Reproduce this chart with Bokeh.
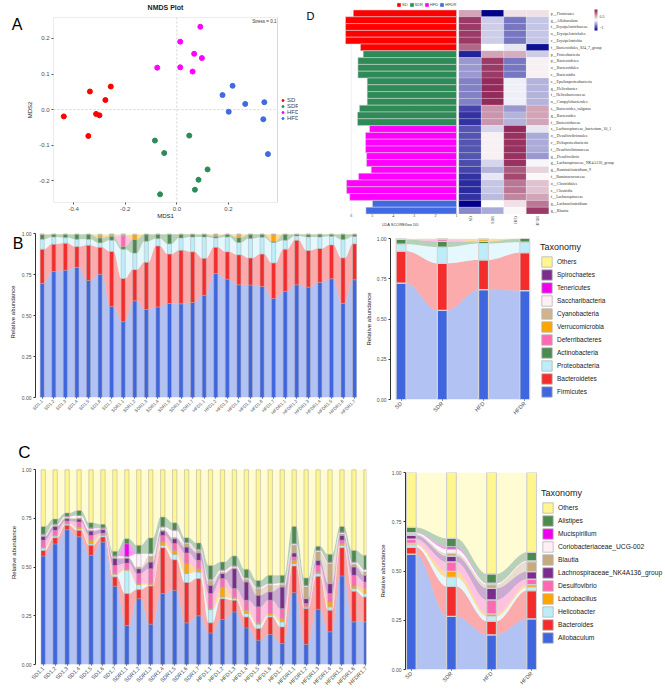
import math
import numpy as np
from bokeh.plotting import figure
from bokeh.models import (Range1d, FixedTicker, Span, Label, LabelSet, Legend, LegendItem, LinearAxis,
                          ColumnDataSource, LinearColorMapper, ColorBar, PrintfTickFormatter, BoxAnnotation)
from bokeh.layouts import row, column
from bokeh.embed import file_html
from bokeh.resources import INLINE
from bokeh.transform import transform

# ---------------- DATA ----------------
# Panel A: NMDS
groups = ["SD", "SDR", "HFD", "HFDR"]
group_colors = ["#FF0000", "#2E8B57", "#FF00FF", "#4169E1"]
sd_x = [-0.438, -0.337, -0.256, -0.277, -0.313, -0.300, -0.343]
sd_y = [-0.019, 0.051, 0.065, 0.027, -0.012, -0.016, -0.074]
sdr_x = [0.048, -0.085, -0.049, 0.119, 0.084, 0.070, -0.065]
sdr_y = [-0.073, -0.087, -0.122, -0.168, -0.197, -0.225, -0.238]
hfd_x = [0.091, 0.013, 0.067, 0.097, -0.076, 0.013, 0.061]
hfd_y = [0.233, 0.191, 0.157, 0.145, 0.118, 0.119, 0.107]
hfdr_x = [0.216, 0.177, 0.265, 0.339, 0.201, 0.335, 0.353]
hfdr_y = [0.067, 0.041, 0.016, 0.021, -0.006, -0.027, -0.125]
nmds_xticks = [-0.4, -0.2, 0.0, 0.2]
nmds_yticks = [-0.2, -0.1, 0.0, 0.1, 0.2]
nmds_xlim = (-0.478, 0.39)
nmds_ylim = (-0.261, 0.259)

# Panel D: LEfSe
lefse_features = ["p__Firmicutes", "g__Allobaculum", "f__Erysipelotrichaceae", "o__Erysipelotrichales",
                  "c__Erysipelotrichia", "f__Bacteroidales_S24_7_group", "p__Proteobacteria", "p__Bacteroidetes",
                  "o__Bacteroidales", "c__Bacteroidia", "c__Epsilonproteobacteria", "g__Helicobacter",
                  "f__Helicobacteraceae", "o__Campylobacterales", "s__Bacteroides_vulgatus", "g__Bacteroides",
                  "f__Bacteroidaceae", "s__Lachnospiraceae_bacterium_10_1", "o__Desulfovibrionales",
                  "c__Deltaproteobacteria", "f__Desulfovibrionaceae", "g__Desulfovibrio",
                  "g__Lachnospiraceae_NK4A136_group", "g__Ruminiclostridium_9", "f__Ruminococcaceae",
                  "o__Clostridiales", "c__Clostridia", "f__Lachnospiraceae", "g__Lachnoclostridium", "g__Blautia"]
lefse_group = ["SD"] * 6 + ["SDR"] * 11 + ["HFD"] * 11 + ["HFDR"] * 2
lda_score = [5.90, 6.27, 6.27, 6.27, 6.27, 5.56, 5.43, 5.68, 5.68, 5.68, 5.24, 5.24, 5.24, 5.24, 5.61,
             5.70, 5.70, 5.13, 5.32, 5.32, 5.32, 5.27, 5.27, 5.05, 5.65, 6.22, 6.22, 6.07, 4.99, 5.30]
lda_ticks = [1, 2, 3, 4, 5, 6]
hm_sd = [0.6, 1.3, 1.3, 1.3, 1.3, 1.0, -1.3, -0.6, -0.6, -0.6, -0.75, -0.75, -0.75, -0.75, -1.1, -1.2, -1.2,
         -1.0, -1.0, -1.0, -1.0, -1.0, -1.05, -1.1, -1.2, -1.25, -1.25, -1.2, -1.5, -0.7]
hm_sdr = [-1.5, -0.3, -0.3, -0.3, -0.3, 0.0, 0.6, 1.3, 1.3, 1.3, 1.4, 1.4, 1.4, 1.4, 0.7, 0.7, 0.7,
          -0.25, 0.1, 0.1, 0.1, 0.1, -0.25, -0.45, -0.15, -0.35, -0.35, -0.4, 0.0, -0.5]
hm_hfd = [0.2, -0.8, -0.8, -0.8, -0.8, -0.15, 0.55, -0.8, -0.8, -0.8, -0.1, -0.1, -0.1, -0.1, -0.6, -0.45, -0.45,
          1.4, 1.35, 1.35, 1.35, 1.35, 1.35, 1.1, 1.2, 0.9, 0.9, 0.8, 0.2, 0.05]
hm_hfdr = [0.2, -0.35, -0.35, -0.35, -0.35, -1.4, -0.3, 0.1, 0.1, 0.1, -0.45, -0.45, -0.45, -0.45, 0.6, 0.6, 0.6,
           -0.15, -0.5, -0.5, -0.5, -0.6, -0.05, 0.3, 0.05, 0.4, 0.4, 0.6, 0.9, 1.3]
hm_ticks = [-1, -0.5, 0, 0.5, 1]

# Samples
samples = ["SD1.1", "SD1.2", "SD1.3", "SD1.4", "SD1.5", "SD1.6", "SD1.7",
           "SDR1.1", "SDR1.2", "SDR1.3", "SDR1.4", "SDR1.5", "SDR1.6", "SDR1.7",
           "HFD1.1", "HFD1.2", "HFD1.3", "HFD1.4", "HFD1.5", "HFD1.6", "HFD1.7",
           "HFDR1.1", "HFDR1.2", "HFDR1.3", "HFDR1.4", "HFDR1.5", "HFDR1.6", "HFDR1.7"]
abund_ticks = [0.0, 0.25, 0.5, 0.75, 1.0]

# Panel B: phylum level (bottom -> top)
phyla = ["Firmicutes", "Bacteroidetes", "Proteobacteria", "Actinobacteria", "Deferribacteres",
         "Verrucomicrobia", "Cyanobacteria", "Saccharibacteria", "Tenericutes", "Spirochaetes", "Others"]
phyla_colors = ["#3F66DE", "#F42C2C", "#BDEDF9", "#4C8B50", "#FF69B4", "#FFA500", "#D2B48C",
                "#FFF0F5", "#EE00EE", "#7B2D8E", "#FFF68F"]
b_firmicutes = [0.698, 0.770, 0.778, 0.796, 0.716, 0.754, 0.556, 0.464, 0.591, 0.538, 0.554, 0.575, 0.573, 0.581,
                0.625, 0.758, 0.724, 0.690, 0.688, 0.679, 0.605, 0.649, 0.690, 0.675, 0.704, 0.726, 0.576, 0.720]
b_bacteroidetes = [0.209, 0.168, 0.166, 0.127, 0.215, 0.165, 0.337, 0.264, 0.191, 0.289, 0.373, 0.302, 0.328, 0.310,
                   0.226, 0.161, 0.167, 0.183, 0.165, 0.198, 0.218, 0.258, 0.272, 0.224, 0.207, 0.207, 0.278, 0.220]
b_proteobacteria = [0.061, 0.044, 0.034, 0.045, 0.037, 0.027, 0.069, 0.179, 0.101, 0.129, 0.045, 0.063, 0.075, 0.091,
                    0.131, 0.057, 0.091, 0.075, 0.119, 0.103, 0.125, 0.055, 0.026, 0.083, 0.071, 0.053, 0.113, 0.045]
b_actinobacteria = [0.028, 0.016, 0.020, 0.030, 0.030, 0.030, 0.024, 0.016, 0.083, 0.042, 0.026, 0.058, 0.022, 0.016,
                    0.016, 0.010, 0.016, 0.030, 0.026, 0.018, 0.008, 0.036, 0.010, 0.016, 0.016, 0.012, 0.031, 0.013]
b_deferribacteres = [0, 0, 0, 0, 0, 0, 0, 0.065, 0, 0, 0, 0, 0, 0, 0, 0, 0, 0, 0, 0, 0, 0, 0, 0, 0, 0, 0, 0]
b_verrucomicrobia = [0.002, 0, 0, 0, 0, 0.012, 0.006, 0.004, 0.030, 0, 0, 0, 0, 0,
                     0, 0.010, 0, 0.012, 0, 0, 0.040, 0, 0, 0, 0, 0, 0, 0]
b_cyanobacteria = [0, 0, 0, 0, 0, 0.008, 0.006, 0.004, 0, 0, 0, 0, 0, 0,
                   0, 0.002, 0, 0.008, 0, 0, 0.002, 0, 0, 0, 0, 0, 0, 0]
b_saccharibacteria = [0, 0, 0, 0, 0, 0, 0, 0.002, 0, 0, 0, 0, 0, 0, 0, 0, 0, 0, 0, 0, 0, 0, 0, 0, 0, 0, 0, 0]
b_tenericutes = [0] * 28
b_spirochaetes = [0] * 28
b_others = [0.002, 0.002, 0.002, 0.002, 0.002, 0.004, 0.002, 0.002, 0.004, 0.002, 0.002, 0.002, 0.002, 0.002,
            0.002, 0.002, 0.002, 0.002, 0.002, 0.002, 0.002, 0.002, 0.002, 0.002, 0.002, 0.002, 0.002, 0.002]

# Panel B right: group means
bg_firmicutes = [0.723, 0.553, 0.682, 0.676]
bg_bacteroidetes = [0.199, 0.293, 0.185, 0.236]
bg_proteobacteria = [0.043, 0.101, 0.102, 0.065]
bg_actinobacteria = [0.029, 0.035, 0.013, 0.023]
bg_deferribacteres = [0, 0.014, 0, 0]
bg_verrucomicrobia = [0.003, 0.002, 0.014, 0]
bg_cyanobacteria = [0.002, 0.002, 0.002, 0]
bg_saccharibacteria = [0, 0, 0, 0]
bg_tenericutes = [0, 0, 0, 0]
bg_spirochaetes = [0, 0, 0, 0]
bg_others = [0.001, 0, 0.002, 0]

# Panel C: genus level (bottom -> top)
genera = ["Allobaculum", "Bacteroides", "Helicobacter", "Lactobacillus", "Desulfovibrio",
          "Lachnospiraceae_NK4A136_group", "Blautia", "Coriobacteriaceae_UCG-002", "Mucispirillum",
          "Alistipes", "Others"]
genera_colors = ["#3F66DE", "#F42C2C", "#BDEDF9", "#FFA500", "#FF69B4", "#7B2D8E", "#C8AA82",
                 "#FFF0F5", "#EE00EE", "#4C8B50", "#FFF68F"]
c_allobaculum = [0.557, 0.619, 0.692, 0.656, 0.561, 0.629, 0.402, 0.200, 0.338, 0.207, 0.364, 0.381, 0.214, 0.250,
                 0.162, 0.231, 0.270, 0.188, 0.125, 0.154, 0.108, 0.369, 0.104, 0.284, 0.168, 0.455, 0.219, 0.219]
c_bacteroides = [0.029, 0.032, 0.023, 0.033, 0.051, 0.026, 0.048, 0.164, 0.047, 0.196, 0.236, 0.157, 0.207, 0.191,
                 0.052, 0.107, 0.060, 0.056, 0.060, 0.090, 0.085, 0.137, 0.183, 0.169, 0.111, 0.145, 0.157, 0.128]
c_helicobacter = [0.012, 0.009, 0.007, 0.008, 0.008, 0.008, 0.013, 0.120, 0.025, 0.007, 0.012, 0.028, 0.046, 0.034,
                  0.068, 0.009, 0.009, 0.018, 0.022, 0.009, 0.026, 0.012, 0.007, 0.014, 0.017, 0.012, 0.014, 0.017]
c_lactobacillus = [0.005, 0.004, 0.004, 0.008, 0.018, 0.005, 0.005, 0.005, 0.005, 0.005, 0.017, 0.020, 0.051, 0.017,
                   0.005, 0.051, 0.008, 0.017, 0.007, 0.009, 0.017, 0.017, 0.005, 0.007, 0.025, 0.008, 0.013, 0.026]
c_desulfovibrio = [0.035, 0.025, 0.011, 0.027, 0.025, 0.007, 0.041, 0.031, 0.052, 0.077, 0.034, 0.035, 0.055, 0.043,
                   0.077, 0.043, 0.043, 0.051, 0.082, 0.068, 0.051, 0.017, 0.014, 0.035, 0.043, 0.018, 0.055, 0.034]
c_nk4a136 = [0.020, 0.020, 0.012, 0.015, 0.022, 0.017, 0.035, 0.025, 0.025, 0.034, 0.022, 0.025, 0.030, 0.038,
             0.043, 0.026, 0.102, 0.094, 0.060, 0.043, 0.111, 0.021, 0.025, 0.026, 0.051, 0.025, 0.043, 0.034]
c_blautia = [0.005, 0.005, 0.004, 0.005, 0.005, 0.004, 0.005, 0.005, 0.008, 0.030, 0.005, 0.006, 0.017, 0.012,
             0.025, 0.007, 0.004, 0.013, 0.034, 0.034, 0.012, 0.039, 0.060, 0.043, 0.103, 0.007, 0.014, 0.017]
c_coriobacteriaceae = [0.005, 0.006, 0.007, 0.013, 0.010, 0.004, 0.007, 0.005, 0.069, 0.013, 0.016, 0.037, 0.005, 0.005,
                       0.005, 0.010, 0.009, 0.007, 0.007, 0.007, 0.008, 0.008, 0.007, 0.007, 0.006, 0.008, 0.010, 0.013]
c_mucispirillum = [0.002, 0.002, 0.002, 0.002, 0.002, 0.002, 0.002, 0.065, 0.003, 0.002, 0.002, 0.002, 0.002, 0.002,
                   0.002, 0.002, 0.002, 0.002, 0.002, 0.002, 0.002, 0.002, 0.002, 0.002, 0.002, 0.002, 0.002, 0.002]
c_alistipes = [0.039, 0.025, 0.016, 0.024, 0.026, 0.018, 0.023, 0.026, 0.040, 0.079, 0.049, 0.037, 0.024, 0.032,
               0.070, 0.040, 0.050, 0.043, 0.033, 0.042, 0.038, 0.087, 0.037, 0.020, 0.040, 0.029, 0.059, 0.071]
c_others = [0.291, 0.253, 0.222, 0.209, 0.272, 0.280, 0.419, 0.354, 0.388, 0.350, 0.243, 0.272, 0.349, 0.376,
            0.491, 0.474, 0.443, 0.511, 0.568, 0.542, 0.542, 0.291, 0.556, 0.393, 0.434, 0.291, 0.414, 0.439]

# Panel C right: group means
cg_allobaculum = [0.586, 0.270, 0.176, 0.257]
cg_bacteroides = [0.034, 0.152, 0.069, 0.143]
cg_helicobacter = [0.013, 0.046, 0.024, 0.017]
cg_lactobacillus = [0.007, 0.030, 0.013, 0.014]
cg_desulfovibrio = [0.022, 0.048, 0.071, 0.028]
cg_nk4a136 = [0.020, 0.030, 0.059, 0.038]
cg_blautia = [0.006, 0.014, 0.019, 0.050]
cg_coriobacteriaceae = [0.005, 0.021, 0.006, 0.004]
cg_mucispirillum = [0.002, 0.012, 0.002, 0.001]
cg_alistipes = [0.026, 0.043, 0.046, 0.043]
cg_others = [0.279, 0.334, 0.515, 0.405]

# ---------------- HELPERS ----------------
FONT = "Liberation Sans"


def no_align(p):
    try:
        p.frame_align = False
    except Exception:
        pass


def make_fig(w, h, xr, yr, bl, br, bt, bb, **kw):
    p = figure(width=w, height=h, x_range=xr, y_range=yr, output_backend="svg", toolbar_location=None,
               min_border_left=bl, min_border_right=br, min_border_top=bt, min_border_bottom=bb, **kw)
    p.outline_line_color = None
    p.xgrid.visible = False
    p.ygrid.visible = False
    no_align(p)
    return p


def bare_fig(w, h, xr, yr):
    p = figure(width=w, height=h, x_range=xr, y_range=yr, output_backend="svg", toolbar_location=None,
               min_border=0, x_axis_location=None, y_axis_location=None)
    p.outline_line_color = None
    p.grid.visible = False
    no_align(p)
    return p


def style_axis(ax, size="5px", label_size="6px"):
    ax.major_label_text_font = FONT
    ax.major_label_text_font_size = size
    ax.major_label_text_color = "#4D4D4D"
    ax.axis_label_text_font = FONT
    ax.axis_label_text_font_size = label_size
    ax.axis_label_text_font_style = "normal"
    ax.axis_label_text_color = "#1A1A1A"
    ax.minor_tick_line_color = None
    ax.major_tick_in = 0
    ax.major_tick_out = 2
    ax.major_tick_line_color = "#333333"
    ax.axis_line_color = "#333333"
    ax.major_label_standoff = 2
    ax.axis_label_standoff = 3


def text_axis(range_name, tick, text, size, standoff, style="normal", color="black", dim="y"):
    kw = {"y_range_name": range_name} if dim == "y" else {"x_range_name": range_name}
    ax = LinearAxis(ticker=FixedTicker(ticks=[tick]), major_label_overrides={tick: text}, **kw)
    ax.axis_line_color = None
    ax.major_tick_line_color = None
    ax.minor_tick_line_color = None
    ax.major_label_text_font = FONT
    ax.major_label_text_font_size = size
    ax.major_label_text_font_style = style
    ax.major_label_text_color = color
    ax.major_label_standoff = standoff
    return ax


def alluvial(p, centers, width, layers, colors, line_color, line_width):
    vals = np.array(layers, dtype=float)
    tops = np.cumsum(vals, axis=0)
    bots = tops - vals
    t = np.linspace(0, 1, 30)
    s = t * t * (3 - 2 * t)
    for k in range(len(layers)):
        xs, lo, hi = [], [], []
        for i in range(len(centers) - 1):
            x0 = centers[i] + width / 2
            x1 = centers[i + 1] - width / 2
            xs += list(x0 + (x1 - x0) * t)
            lo += list(bots[k, i] + (bots[k, i + 1] - bots[k, i]) * s)
            hi += list(tops[k, i] + (tops[k, i + 1] - tops[k, i]) * s)
        p.varea(x=xs, y1=lo, y2=hi, fill_color=colors[k], fill_alpha=0.4)
    cx = np.array(centers, dtype=float)
    for k in range(len(layers)):
        keep = vals[k] > 0
        src = ColumnDataSource(dict(x=cx[keep], b=bots[k][keep], t=tops[k][keep]))
        p.vbar(x="x", width=width, bottom="b", top="t", source=src, fill_color=colors[k],
               line_color=line_color, line_width=line_width)


def abundance_axes(p, ticks, labels, xsize, ysize="5px"):
    style_axis(p.yaxis[0], size=ysize)
    p.yaxis.ticker = FixedTicker(ticks=abund_ticks)
    p.yaxis.formatter = PrintfTickFormatter(format="%.2f")
    p.yaxis.axis_label = "Relative abundance"
    p.yaxis.bounds = (0, 1)
    style_axis(p.xaxis[0], size=xsize)
    p.xaxis.ticker = FixedTicker(ticks=ticks)
    p.xaxis.major_label_overrides = {tk: lb for tk, lb in zip(ticks, labels)}
    p.xaxis.major_label_orientation = math.pi / 4
    p.xaxis.axis_line_color = None
    p.xaxis.major_tick_out = 1


def legend_fig(w, h, names, colors, loc, row_h, label_size):
    p = bare_fig(w, h, Range1d(0, 1), Range1d(0, 1))
    # swatch carriers: one point each, placed outside the visible range
    rends = [p.vbar(x=[5], bottom=[5], top=[6], width=0.1, fill_color=c, line_color="#B5B5B5", line_width=0.8)
             for c in colors]
    items = [LegendItem(label=n, renderers=[r]) for n, r in zip(names, rends)][::-1]
    lg = Legend(items=items, location=loc, title="Taxonomy", title_text_font=FONT,
                title_text_font_size="9px", title_text_font_style="normal", title_text_color="#1A1A1A",
                title_standoff=3, glyph_width=13, glyph_height=row_h, label_height=row_h, label_width=0,
                label_text_font=FONT, label_text_font_size=label_size, label_text_color="#1A1A1A",
                label_standoff=4, spacing=0, padding=0, margin=0, border_line_color=None,
                background_fill_alpha=0)
    p.add_layout(lg)
    return p


# ---------------- PANEL A ----------------
pA = make_fig(298, 226, Range1d(-0.478, 0.4714), Range1d(*nmds_ylim), 53, 0, 16, 24)
pA.extra_x_ranges = {"xpx": Range1d(0, 245)}
pA.extra_y_ranges = {"lpx": Range1d(0, 186)}
pA.add_layout(BoxAnnotation(left=nmds_xlim[0], right=nmds_xlim[1], bottom=nmds_ylim[0], top=nmds_ylim[1],
                            fill_alpha=0, line_color="#808080", line_width=1))
pA.add_layout(Span(location=0, dimension="height", line_color="#C0C0C0", line_dash="2 2", line_width=0.7))
pA.segment(x0=[nmds_xlim[0]], y0=[0], x1=[nmds_xlim[1]], y1=[0], line_color="#C0C0C0", line_dash="2 2",
           line_width=0.7)
a_rends = []
for xs, ys, col in zip([sd_x, sdr_x, hfd_x, hfdr_x], [sd_y, sdr_y, hfd_y, hfdr_y], group_colors):
    a_rends.append(pA.scatter(xs, ys, size=5, fill_color=col, line_color=col))
for ax in [pA.xaxis[0], pA.yaxis[0]]:
    style_axis(ax, size="6px", label_size="6px")
    ax.axis_line_color = None
    ax.major_tick_line_color = "#555555"
pA.xaxis.ticker = FixedTicker(ticks=nmds_xticks)
pA.yaxis.ticker = FixedTicker(ticks=nmds_yticks)
pA.xaxis.formatter = PrintfTickFormatter(format="%.1f")
pA.yaxis.formatter = PrintfTickFormatter(format="%.1f")
pA.yaxis.axis_label = "MDS2"
pA.add_layout(text_axis("xpx", 112, "MDS1", "6px", -7, color="#1A1A1A", dim="x"), "below")
pA.add_layout(text_axis("xpx", 112, "NMDS Plot", "7px", 1, style="bold", color="#1A1A1A", dim="x"), "above")
pA.add_layout(text_axis("lpx", 179, "A", "16px", -4), "left")
pA.add_layout(Label(x=0.386, y=0.254, text="Stress = 0.1", text_align="right", text_baseline="top",
                    text_font=FONT, text_font_size="4.5px", text_color="#333333"))
legA = Legend(items=[LegendItem(label=g, renderers=[r]) for g, r in zip(groups, a_rends)],
              location=(227, 81), glyph_width=5, glyph_height=6, label_height=6, spacing=0,
              padding=0, margin=0, label_standoff=2, label_text_font=FONT, label_text_font_size="6px",
              border_line_color=None, background_fill_alpha=0)
pA.add_layout(legA)

# ---------------- PANEL D ----------------
pD = bare_fig(366, 226, Range1d(8.502, -8.877), Range1d(31.84, -1.397))
pD.extra_x_ranges = {"hm": Range1d(-7.124, 9.142)}
pD.segment(x0=lda_ticks, y0=[0] * 6, x1=lda_ticks, y1=[30] * 6, line_color="#E6E6E6", line_width=0.6)
d_rends = []
for g, col in zip(groups, group_colors):
    idx = [i for i, gg in enumerate(lefse_group) if gg == g]
    src = ColumnDataSource(dict(y=[i + 0.5 for i in idx], left=[lda_score[i] for i in idx]))
    d_rends.append(pD.hbar(y="y", left="left", right=1, height=1, source=src, fill_color=col,
                           line_color="#D8D8D8", line_width=0.5))
pD.text(x=lda_ticks, y=[30.25] * 6, text=[str(t) for t in lda_ticks], text_align="center",
        text_baseline="middle", text_font=FONT, text_font_size="4px", text_color="#333333")


def lerp(c1, c2, t):
    return "#%02x%02x%02x" % tuple(int(round(a + (b - a) * t)) for a, b in zip(c1, c2))


navy, white, maroon = (0, 0, 139), (255, 255, 255), (140, 28, 78)
palette = [lerp(navy, white, i / 127) for i in range(128)] + [lerp(white, maroon, i / 127) for i in range(128)]
mapper = LinearColorMapper(palette=palette, low=-1.5, high=1.5)
hx, hy, hz = [], [], []
for c, col_vals in enumerate([hm_sd, hm_sdr, hm_hfd, hm_hfdr]):
    for r, v in enumerate(col_vals):
        hx.append(c + 0.5)
        hy.append(r + 0.5)
        hz.append(v)
pD.rect(x="x", y="y", width=1, height=1, source=ColumnDataSource(dict(x=hx, y=hy, z=hz)),
        x_range_name="hm", fill_color=transform("z", mapper), line_color="white", line_alpha=0.35,
        line_width=0.5)
pD.add_layout(LabelSet(x="x", y="y", text="name", x_range_name="hm", x_offset=2,
                       source=ColumnDataSource(dict(x=[4] * 30, y=[i + 0.5 for i in range(30)],
                                                    name=lefse_features)),
                       text_font=FONT, text_font_size="4px", text_baseline="middle", text_color="#333333"))
pD.add_layout(LabelSet(x="x", y="y", text="name", x_range_name="hm", angle=math.pi / 2,
                       source=ColumnDataSource(dict(x=[0.5, 1.5, 2.5, 3.5], y=[30.3] * 4, name=groups)),
                       text_font=FONT, text_font_size="4px", text_baseline="middle", text_align="right",
                       text_color="#333333"))
pD.add_layout(Label(x=3.66, y=31.5, text="LDA SCORE(log 10)", text_align="center",
                    text_baseline="middle", text_font=FONT, text_font_size="4px", text_color="#333333"))
pD.add_layout(Label(x=8.12, y=0.81, text="D", text_align="left", text_baseline="alphabetic",
                    text_font=FONT, text_font_size="11px", text_color="black"))
legD = Legend(items=[LegendItem(label=g, renderers=[r]) for g, r in zip(groups, d_rends)],
              orientation="horizontal", location=(98, 219), glyph_width=5, glyph_height=5,
              label_height=5, label_width=0, label_text_font=FONT, label_text_font_size="4px",
              label_standoff=1, spacing=1, padding=0, margin=0, border_line_color=None,
              background_fill_alpha=0)
pD.add_layout(legD)
cb = ColorBar(color_mapper=mapper, location=(296, 196), width=3, height=21,
              ticker=FixedTicker(ticks=hm_ticks), major_label_text_font_size="3.5px",
              major_label_text_font=FONT, padding=0, margin=0, bar_line_color=None,
              major_tick_line_color=None, background_fill_alpha=0, label_standoff=2)
pD.add_layout(cb)

# ---------------- PANEL B ----------------
idx28 = list(range(28))
b_layers = [b_firmicutes, b_bacteroidetes, b_proteobacteria, b_actinobacteria, b_deferribacteres,
            b_verrucomicrobia, b_cyanobacteria, b_saccharibacteria, b_tenericutes, b_spirochaetes, b_others]
pBL = make_fig(362, 194, Range1d(-0.58, 27.25), Range1d(0, 1.0458), 35, 5, 0, 18)
pBL.extra_y_ranges = {"lpx": Range1d(0, 176)}
alluvial(pBL, idx28, 0.35, b_layers, phyla_colors, "#B0B0B0", 0.5)
abundance_axes(pBL, idx28, samples, "4.5px")
pBL.add_layout(text_axis("lpx", 176, "B", "16px", -23), "left")

bg_layers = [bg_firmicutes, bg_bacteroidetes, bg_proteobacteria, bg_actinobacteria, bg_deferribacteres,
             bg_verrucomicrobia, bg_cyanobacteria, bg_saccharibacteria, bg_tenericutes, bg_spirochaetes, bg_others]
pBR = make_fig(175, 194, Range1d(0.744, 4.163), Range1d(0, 1), 26, 6, 12, 19)
alluvial(pBR, [1, 2, 3, 4], 0.24, bg_layers, phyla_colors, "#D5D5D5", 1.2)
abundance_axes(pBR, [1, 2, 3, 4], groups, "5.5px")
pBR.yaxis.axis_label_standoff = 2
legB = legend_fig(127, 194, phyla, phyla_colors, (3, 22), 13, "6.5px")

# ---------------- PANEL C ----------------
c_layers = [c_allobaculum, c_bacteroides, c_helicobacter, c_lactobacillus, c_desulfovibrio, c_nk4a136,
            c_blautia, c_coriobacteriaceae, c_mucispirillum, c_alistipes, c_others]
pCL = make_fig(369, 270, Range1d(-0.644, 27.05), Range1d(0, 1.1503), 35, 3, 20, 26)
pCL.extra_y_ranges = {"lpx": Range1d(0, 224)}
alluvial(pCL, idx28, 0.36, c_layers, genera_colors, "#A8A8A8", 0.5)
abundance_axes(pCL, idx28, samples, "5.5px")
pCL.yaxis.axis_label_standoff = 2
pCL.add_layout(text_axis("lpx", 212, "C", "17px", -29), "left")

cg_layers = [cg_allobaculum, cg_bacteroides, cg_helicobacter, cg_lactobacillus, cg_desulfovibrio, cg_nk4a136,
             cg_blautia, cg_coriobacteriaceae, cg_mucispirillum, cg_alistipes, cg_others]
pCR = make_fig(170, 270, Range1d(0.855, 4.145), Range1d(0, 1), 36, 2, 52, 21)
alluvial(pCR, [1, 2, 3, 4], 0.242, cg_layers, genera_colors, "#D0D0D0", 1.2)
abundance_axes(pCR, [1, 2, 3, 4], groups, "5.5px")
legC = legend_fig(125, 270, genera, genera_colors, (2, 46), 13, "6.7px")

layout = column(row(column(pA), column(pD), spacing=0),
                row(column(pBL), column(pBR), column(legB), spacing=0),
                row(column(pCL), column(pCR), column(legC), spacing=0), spacing=0)
open("out.html", "w").write(file_html(layout, INLINE))
